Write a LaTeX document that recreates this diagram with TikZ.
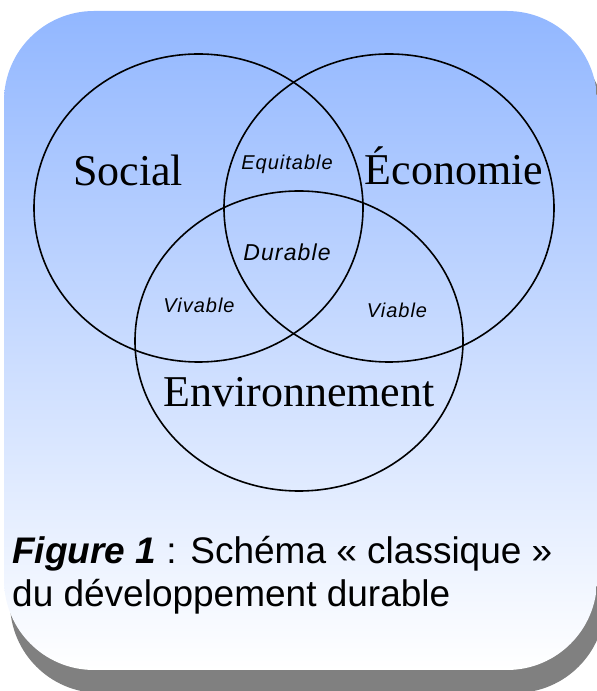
\documentclass[tikz,border=0pt]{standalone}
\usepackage{fontspec}
\setmainfont{Liberation Serif}
\newfontfamily\capfont{Liberation Sans}
\newfontfamily\zonefont[LetterSpace=5]{Liberation Sans}
\begin{document}
\begin{tikzpicture}[x=1pt,y=1pt,
  setname/.style={font=\fontsize{44}{50}\selectfont, inner sep=0pt, anchor=base},
  zone/.style={font=\zonefont\itshape\fontsize{20}{24}\selectfont, inner sep=0pt, anchor=base},
  caption/.style={font=\capfont\fontsize{37}{43}\selectfont, inner sep=0pt, anchor=base west},
  ring/.style={draw=black, line width=1.6pt}]
  \useasboundingbox (0,0) rectangle (597,691);
  \clip (0,0) rectangle (597,691);
  % shadow and panel
  \fill[fill={rgb,255:red,128;green,128;blue,128}, rounded corners=90pt]
    (10,-2) rectangle (605,659);
  \shade[rounded corners=90pt,
    top color={rgb,255:red,146;green,183;blue,255},
    middle color={rgb,255:red,204;green,219;blue,255},
    bottom color={rgb,255:red,255;green,255;blue,255}]
    (4,21) rectangle (597,680);
  % the three sets
  \draw[ring] (198.5,483) ellipse [x radius=164.5, y radius=154];
  \draw[ring] (389,483) ellipse [x radius=165, y radius=154];
  \draw[ring] (299,350) ellipse [x radius=164, y radius=150];
  % set names
  \node[setname] (social) at (128,505) {Social};
  \node[setname] (eco) at (454,506) {Économie};
  \node[setname] (env) at (299,284) {Environnement};
  % overlap names
  \node[zone] (equi) at (287,521) {Equitable};
  \node[zone, font=\zonefont\itshape\fontsize{23}{27}\selectfont] (dur) at (287,430) {Durable};
  \node[zone] (viv) at (199,378) {Vivable};
  \node[zone] (via) at (397,373) {Viable};
  % caption
  \node[caption] (cap1) at (12,127) {\textbf{\textit{Figure 1}} : Schéma « classique »};
  \node[caption] (cap2) at (12,84) {du développement durable};
\end{tikzpicture}
\end{document}
